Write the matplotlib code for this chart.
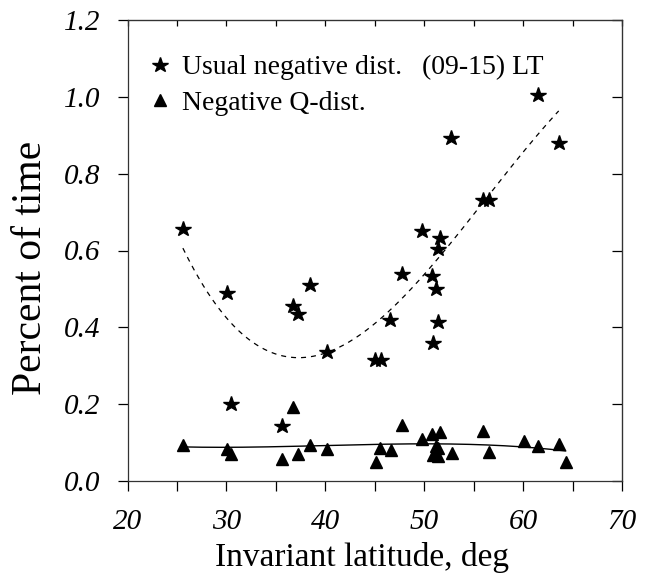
import numpy as np
import matplotlib
matplotlib.use("Agg")
import matplotlib.pyplot as plt

# ---- data ----
star_lat = [25.6, 30.1, 30.5, 35.6, 36.7, 37.2, 38.5, 40.2, 45.0, 45.6, 46.5, 47.8,
            49.8, 50.8, 50.9, 51.2, 51.4, 51.4, 51.6, 52.7, 55.9, 56.6, 61.5, 63.6]
star_pct = [0.655, 0.489, 0.200, 0.144, 0.455, 0.436, 0.509, 0.336, 0.315, 0.315, 0.420, 0.539,
            0.652, 0.534, 0.360, 0.500, 0.603, 0.415, 0.632, 0.892, 0.731, 0.731, 1.005, 0.881]

tri_lat = [25.6, 30.1, 30.5, 35.6, 36.7, 37.2, 38.5, 40.2, 45.1, 45.5, 46.6, 47.8, 49.8,
           50.8, 50.9, 51.2, 51.4, 51.4, 51.6, 52.8, 55.9, 56.6, 60.1, 61.5, 63.6, 64.3]
tri_pct = [0.093, 0.084, 0.069, 0.057, 0.193, 0.069, 0.095, 0.084, 0.049, 0.086, 0.081, 0.147, 0.110,
           0.122, 0.067, 0.091, 0.087, 0.065, 0.127, 0.072, 0.130, 0.076, 0.103, 0.092, 0.096, 0.050]

x_major = [20, 30, 40, 50, 60, 70]
x_minor = [25, 35, 45, 55, 65]
y_ticks = [0.0, 0.2, 0.4, 0.6, 0.8, 1.0, 1.2]

label_star = "Usual negative dist."
label_tri = "Negative Q-dist."
note = "(09-15) LT"
xlabel = "Invariant latitude, deg"
ylabel = "Percent of time"

SERIF = ["Liberation Serif", "DejaVu Serif"]
plt.rcParams["font.family"] = SERIF

fig = plt.figure(figsize=(6.51, 5.78), dpi=100)
W, H = 651, 578
L, R, T, B = 127.5, 622, 20, 481
ax = fig.add_axes([L / W, 1 - B / H, (R - L) / W, (B - T) / H])

# trend fits (cubic polynomial) over each series' range
sx = np.array(star_lat); sy = np.array(star_pct)
tx = np.array(tri_lat); ty = np.array(tri_pct)
cs = np.polyfit(sx, sy, 3)
ct = np.polyfit(tx, ty, 3)
xs = np.linspace(sx.min(), sx.max(), 200)
xt = np.linspace(tx.min(), tx.max(), 200)
ax.plot(xs, np.polyval(cs, xs), color="black", lw=0.9, ls=(0, (4, 4)), zorder=2)
ax.plot(xt, np.polyval(ct, xt), color="black", lw=1.0, zorder=2)

ax.plot(star_lat, star_pct, ls="none", marker="*", ms=11.5, color="black", label=label_star, zorder=3)
ax.plot(tri_lat, tri_pct, ls="none", marker="^", ms=8, color="black", label=label_tri, zorder=3)

ax.set_xlim(20, 70)
ax.set_ylim(0, 1.2)

ax.set_xticks(x_major)
ax.set_xticks(x_minor, minor=True)
ax.set_xticklabels([str(v) for v in x_major])
ax.set_yticks(y_ticks)
ax.set_yticklabels(["%.1f" % v for v in y_ticks])

for lab in ax.get_xticklabels() + ax.get_yticklabels():
    lab.set_fontstyle("italic")
    lab.set_fontsize(21)

ax.tick_params(axis="x", which="both", direction="out", length=7.2, width=0.9, pad=13)
ax.tick_params(axis="y", which="both", direction="out", length=7.2, width=0.9, pad=12)

for sp in ax.spines.values():
    sp.set_linewidth(0.9)
    sp.set_color("#333333")

# inward ticks on top and right
secx = ax.secondary_xaxis("top")
secx.set_xticks(x_major + x_minor)
secx.tick_params(direction="in", length=4.5, width=0.9, labeltop=False)
secy = ax.secondary_yaxis("right")
secy.set_yticks(y_ticks)
secy.tick_params(direction="in", length=7.2, width=0.9, labelright=False)

ax.set_xlabel(xlabel, fontsize=24, va="baseline")
ax.xaxis.set_label_coords((362 - L) / (R - L), (B - 566) / (B - T))
ax.set_ylabel(ylabel, fontsize=30, va="baseline")
ax.yaxis.set_label_coords((41 - L) / (R - L), (B - 268) / (B - T))

leg = ax.legend(loc="upper left", bbox_to_anchor=((149 - L) / (R - L), (B - 55) / (B - T)),
                frameon=False, fontsize=20, handlelength=0.8, handletextpad=0.39,
                labelspacing=0.35, borderpad=0, borderaxespad=0, numpoints=1)

ax.text((421.7 - L) / (R - L), (B - 74) / (B - T), note, transform=ax.transAxes,
        fontsize=20, ha="left", va="baseline")

fig.savefig("out.png", dpi=100)
